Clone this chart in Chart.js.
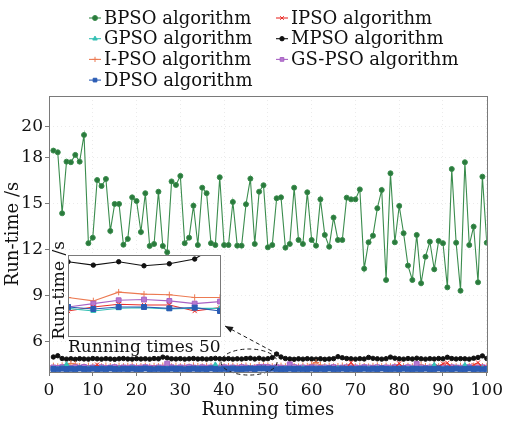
<!DOCTYPE html>
<html>
<head>
<meta charset="utf-8">
<script src="https://cdn.jsdelivr.net/npm/chart.js@4.4.1/dist/chart.umd.min.js"></script>
<style>
  html, body { margin: 0; padding: 0; background: #fff; }
  #wrap { position: relative; width: 507px; height: 423px; }
  #main { position: absolute; left: 0; top: 0; }
  #inset { position: absolute; left: 48px; top: 236px; }
</style>
</head>
<body>
<div id="wrap">
  <canvas id="main" width="507" height="423"></canvas>
  <canvas id="inset" width="180" height="124"></canvas>
</div>
<script>
// ---- data: run-time (s) of each algorithm over 100 runs ----
const runs = Array.from({ length: 100 }, (_, i) => i + 1);
const xTicks = [0, 10, 20, 30, 40, 50, 60, 70, 80, 90, 100];
const yTicks = [6, 9, 12, 15, 18, 20];

const bpso = [
  18.44, 18.33, 14.35, 17.72, 17.68, 18.16, 17.72, 19.46, 12.40, 12.76,
  16.52, 16.13, 16.59, 13.20, 14.96, 14.96, 12.30, 12.68, 15.39, 15.15,
  13.13, 15.66, 12.22, 12.35, 15.76, 12.22, 11.81, 16.43, 16.20, 16.79,
  12.40, 12.76, 14.85, 12.28, 16.02, 15.66, 12.40, 12.28, 16.70, 12.28,
  12.28, 15.09, 12.24, 12.24, 14.94, 16.61, 12.35, 15.76, 16.18, 12.13,
  12.28, 15.33, 15.39, 12.11, 12.35, 16.02, 12.61, 12.35, 15.72, 12.61,
  12.24, 15.26, 12.94, 12.17, 14.07, 12.61, 12.61, 15.37, 15.26, 15.26,
  15.91, 10.74, 12.46, 12.89, 14.68, 15.87, 10.00, 16.96, 12.46, 14.83,
  13.05, 10.94, 10.00, 12.94, 9.79, 11.52, 12.50, 10.70, 12.55, 12.40,
  9.52, 17.24, 12.43, 9.30, 17.68, 12.28, 13.48, 9.85, 16.74, 12.43
];
const mpso = [
  4.98, 5.06, 4.88, 4.84, 4.86, 4.83, 4.87, 4.85, 4.84, 4.88,
  4.86, 4.84, 4.87, 4.85, 4.83, 4.86, 4.88, 4.85, 4.84, 4.87,
  4.85, 4.86, 4.84, 4.88, 4.86, 4.97, 4.92, 4.86, 4.85, 4.87,
  4.84, 4.86, 4.88, 4.85, 4.86, 4.84, 4.87, 4.89, 4.86, 4.85,
  4.87, 4.84, 4.86, 4.85, 4.88, 4.90, 4.85, 4.90, 4.84, 4.87,
  4.94, 5.17, 4.98, 4.88, 4.85, 4.83, 4.86, 4.84, 4.87, 4.85,
  4.84, 4.86, 4.83, 4.85, 4.87, 5.00, 4.93, 4.88, 4.86, 4.84,
  4.87, 4.85, 4.95, 4.89, 4.86, 4.84, 4.87, 4.97, 4.90, 4.86,
  4.84, 4.88, 4.85, 4.90, 4.86, 4.84, 4.87, 4.85, 4.88, 4.86,
  4.96, 4.88, 4.85, 4.87, 4.86, 4.84, 4.90, 4.95, 5.05, 4.88
];
const ipsoDash = [
  4.40, 4.36, 4.42, 4.48, 4.56, 4.52, 4.38, 4.35, 4.40, 4.37,
  4.39, 4.36, 4.41, 4.38, 4.35, 4.40, 4.37, 4.39, 4.42, 4.36,
  4.38, 4.40, 4.35, 4.39, 4.37, 4.41, 4.38, 4.36, 4.40, 4.37,
  4.39, 4.35, 4.42, 4.38, 4.36, 4.40, 4.39, 4.37, 4.41, 4.36,
  4.38, 4.40, 4.36, 4.39, 4.41, 4.37, 4.32, 4.45, 4.42, 4.41,
  4.37, 4.37, 4.40, 4.36, 4.39, 4.38, 4.35, 4.41, 4.39, 4.50,
  4.62, 4.45, 4.37, 4.40, 4.36, 4.38, 4.41, 4.37, 4.39, 4.36,
  4.40, 4.38, 4.35, 4.39, 4.42, 4.37, 4.40, 4.36, 4.38, 4.41,
  4.37, 4.39, 4.36, 4.40, 4.46, 4.38, 4.35, 4.41, 4.37, 4.39,
  4.42, 4.38, 4.36, 4.40, 4.37, 4.39, 4.41, 4.36, 4.38, 4.40
];
const gspso = [
  4.30, 4.27, 4.32, 4.29, 4.26, 4.31, 4.28, 4.33, 4.27, 4.30,
  4.28, 4.31, 4.26, 4.29, 4.32, 4.27, 4.30, 4.28, 4.31, 4.27,
  4.29, 4.32, 4.28, 4.26, 4.30, 4.29, 4.55, 4.31, 4.27, 4.30,
  4.28, 4.32, 4.29, 4.27, 4.31, 4.28, 4.30, 4.26, 4.29, 4.31,
  4.28, 4.30, 4.27, 4.32, 4.29, 4.23, 4.28, 4.33, 4.34, 4.32,
  4.28, 4.31, 4.29, 4.27, 4.50, 4.32, 4.28, 4.30, 4.27, 4.31,
  4.29, 4.26, 4.30, 4.28, 4.32, 4.27, 4.29, 4.31, 4.28, 4.30,
  4.27, 4.32, 4.29, 4.28, 4.31, 4.27, 4.30, 4.28, 4.32, 4.29,
  4.27, 4.31, 4.28, 4.52, 4.30, 4.27, 4.29, 4.32, 4.28, 4.30,
  4.27, 4.31, 4.29, 4.28, 4.30, 4.32, 4.27, 4.29, 4.31, 4.28
];
const ipso = [
  4.24, 4.20, 4.26, 4.22, 4.19, 4.25, 4.21, 4.23, 4.20, 4.27,
  4.48, 4.22, 4.19, 4.24, 4.21, 4.26, 4.20, 4.23, 4.25, 4.19,
  4.22, 4.24, 4.20, 4.26, 4.21, 4.23, 4.19, 4.25, 4.22, 4.20,
  4.24, 4.21, 4.26, 4.19, 4.23, 4.22, 4.25, 4.20, 4.24, 4.21,
  4.23, 4.19, 4.26, 4.22, 4.20, 4.17, 4.23, 4.27, 4.26, 4.26,
  4.17, 4.22, 4.24, 4.20, 4.23, 4.26, 4.21, 4.19, 4.24, 4.22,
  4.25, 4.20, 4.23, 4.21, 4.26, 4.19, 4.24, 4.30, 4.62, 4.25,
  4.21, 4.23, 4.20, 4.25, 4.22, 4.19, 4.24, 4.21, 4.30, 4.56,
  4.24, 4.20, 4.23, 4.26, 4.21, 4.24, 4.19, 4.22, 4.35, 4.55,
  4.60, 4.28, 4.22, 4.25, 4.20, 4.23, 4.45, 4.62, 4.30, 4.22
];
const gpso = [
  4.22, 4.19, 4.24, 4.50, 4.21, 4.18, 4.23, 4.20, 4.22, 4.19,
  4.21, 4.24, 4.18, 4.22, 4.20, 4.23, 4.19, 4.21, 4.24, 4.20,
  4.18, 4.22, 4.21, 4.19, 4.23, 4.20, 4.22, 4.18, 4.24, 4.21,
  4.19, 4.22, 4.20, 4.23, 4.18, 4.21, 4.24, 4.48, 4.22, 4.19,
  4.21, 4.23, 4.18, 4.22, 4.20, 4.21, 4.17, 4.21, 4.22, 4.20,
  4.21, 4.21, 4.19, 4.23, 4.20, 4.22, 4.18, 4.24, 4.21, 4.19,
  4.22, 4.20, 4.23, 4.18, 4.21, 4.24, 4.20, 4.22, 4.19, 4.21,
  4.23, 4.18, 4.22, 4.20, 4.24, 4.21, 4.19, 4.22, 4.20, 4.23,
  4.18, 4.21, 4.24, 4.20, 4.22, 4.19, 4.23, 4.46, 4.21, 4.20,
  4.22, 4.18, 4.23, 4.21, 4.45, 4.20, 4.22, 4.19, 4.24, 4.21
];
const dpso = [
  4.20, 4.17, 4.22, 4.19, 4.21, 4.18, 4.23, 4.20, 4.17, 4.22,
  4.19, 4.21, 4.18, 4.23, 4.20, 4.17, 4.21, 4.19, 4.22, 4.18,
  4.20, 4.23, 4.19, 4.17, 4.21, 4.20, 4.18, 4.22, 4.19, 4.21,
  4.17, 4.20, 4.22, 4.18, 4.21, 4.19, 4.23, 4.20, 4.17, 4.21,
  4.19, 4.22, 4.18, 4.20, 4.21, 4.23, 4.20, 4.23, 4.23, 4.21,
  4.22, 4.17, 4.20, 4.18, 4.22, 4.19, 4.21, 4.17, 4.20, 4.22,
  4.18, 4.21, 4.19, 4.23, 4.20, 4.17, 4.22, 4.19, 4.21, 4.18,
  4.20, 4.22, 4.17, 4.21, 4.19, 4.23, 4.20, 4.18, 4.21, 4.19,
  4.22, 4.17, 4.20, 4.21, 4.18, 4.22, 4.19, 4.20, 4.23, 4.17,
  4.21, 4.19, 4.22, 4.18, 4.20, 4.23, 4.19, 4.21, 4.17, 4.20
];

// zoomed window shown in the inset, and the dashed marker around it
const insetRange = { xMin: 46, xMax: 52, yMin: 3.8, yMax: 5.0 };
const zoomEllipse = { cx: 45.7, cy: 4.65, rx: 6.4, ry: 0.85 };
const zoomArrow = { from: [52.3, 5.15], to: [40.2, 7.0] };

// ---- series styling (legend order: left column then right column) ----
const series = [
  { label: 'BPSO algorithm',   data: bpso,     color: '#3a8c4d', fill: '#2a7a3c', style: 'circle',   r: 2.5, order: 6 },
  { label: 'GPSO algorithm',   data: gpso,     color: '#34c0b4', fill: '#34c0b4', style: 'triangle', r: 2.8, order: 1 },
  { label: 'I-PSO algorithm',  data: ipsoDash, color: '#ec7a52', fill: '#ec7a52', style: 'cross',    r: 3.2, order: 4 },
  { label: 'DPSO algorithm',   data: dpso,     color: '#2b5cb4', fill: '#2b5cb4', style: 'rect',     r: 3.5, order: 0 },
  { label: 'IPSO algorithm',   data: ipso,     color: '#ea2f2a', fill: '#ea2f2a', style: 'crossRot', r: 3.0, order: 2 },
  { label: 'MPSO algorithm',   data: mpso,     color: '#111111', fill: '#111111', style: 'circle',   r: 2.2, order: 5 },
  { label: 'GS-PSO algorithm', data: gspso,    color: '#a862c4', fill: '#b77ad0', style: 'rect',     r: 3.4, order: 3 }
];

const FONT = "'DejaVu Serif', serif";
Chart.defaults.font.family = FONT;
Chart.defaults.color = '#111';

function makeSets() {
  return series.map(s => ({
    label: s.label,
    data: s.data.map((v, i) => ({ x: runs[i], y: v })),
    borderColor: s.color,
    backgroundColor: s.fill,
    pointBackgroundColor: s.fill,
    pointBorderColor: s.color,
    pointStyle: s.style,
    pointRadius: s.r,
    pointBorderWidth: 1,
    borderWidth: 1.1,
    tension: 0,
    order: s.order
  }));
}

// frame around the plotting area
const framePlugin = {
  id: 'frame',
  afterDraw(chart) {
    const { ctx, chartArea: a } = chart;
    ctx.save();
    ctx.strokeStyle = '#7a7a7a';
    ctx.lineWidth = 1;
    ctx.strokeRect(Math.round(a.left) + 0.5, Math.round(a.top) + 0.5,
                   Math.round(a.right - a.left), Math.round(a.bottom - a.top));
    ctx.restore();
  }
};

// dashed ellipse around the zoomed runs and the arrow pointing to the inset
const zoomMarkPlugin = {
  id: 'zoomMark',
  afterDatasetsDraw(chart) {
    const { ctx, scales: { x, y } } = chart;
    const cx = x.getPixelForValue(zoomEllipse.cx);
    const cy = y.getPixelForValue(zoomEllipse.cy);
    const rx = Math.abs(x.getPixelForValue(zoomEllipse.cx + zoomEllipse.rx) - cx);
    const ry = Math.abs(y.getPixelForValue(zoomEllipse.cy + zoomEllipse.ry) - cy);
    const fx = x.getPixelForValue(zoomArrow.from[0]), fy = y.getPixelForValue(zoomArrow.from[1]);
    const tx = x.getPixelForValue(zoomArrow.to[0]),   ty = y.getPixelForValue(zoomArrow.to[1]);
    ctx.save();
    ctx.strokeStyle = '#1a1a1a';
    ctx.lineWidth = 1;
    ctx.setLineDash([4, 3]);
    ctx.beginPath();
    ctx.ellipse(cx, cy, rx, ry, 0, 0, Math.PI * 2);
    ctx.stroke();
    ctx.beginPath();
    ctx.moveTo(fx, fy);
    ctx.lineTo(tx, ty);
    ctx.stroke();
    ctx.setLineDash([]);
    const ang = Math.atan2(ty - fy, tx - fx);
    const L = 8, W = 3.2;
    ctx.fillStyle = '#1a1a1a';
    ctx.beginPath();
    ctx.moveTo(tx, ty);
    ctx.lineTo(tx - L * Math.cos(ang) + W * Math.sin(ang), ty - L * Math.sin(ang) - W * Math.cos(ang));
    ctx.lineTo(tx - L * Math.cos(ang) - W * Math.sin(ang), ty - L * Math.sin(ang) + W * Math.cos(ang));
    ctx.closePath();
    ctx.fill();
    ctx.restore();
  }
};

// two-column legend at the top
const legendGridPlugin = {
  id: 'legendGrid',
  afterDraw(chart) {
    const { ctx } = chart;
    const colX = [95, 282];
    const rowY = [18, 38.7, 59.4, 80.1];
    ctx.save();
    ctx.font = '18px ' + FONT;
    ctx.textBaseline = 'middle';
    ctx.textAlign = 'left';
    chart.data.datasets.forEach((ds, i) => {
      const col = i < 4 ? 0 : 1;
      const row = i < 4 ? i : i - 4;
      const px = colX[col], py = rowY[row];
      ctx.strokeStyle = ds.borderColor;
      ctx.lineWidth = 1.1;
      ctx.beginPath();
      ctx.moveTo(px - 6, py);
      ctx.lineTo(px + 6, py);
      ctx.stroke();
      ctx.fillStyle = ds.pointBackgroundColor;
      ctx.strokeStyle = ds.pointBorderColor;
      ctx.lineWidth = 1;
      Chart.helpers.drawPoint(ctx, { pointStyle: ds.pointStyle, radius: Math.min(ds.pointRadius, 2.6), borderWidth: 1, rotation: 0 }, px, py);
      ctx.fillStyle = '#111';
      ctx.fillText(ds.label, px + 9, py + 1);
    });
    ctx.restore();
  }
};

new Chart(document.getElementById('main'), {
  type: 'line',
  data: { datasets: makeSets() },
  options: {
    responsive: false,
    animation: false,
    layout: { padding: { top: 96, right: 17, left: 0, bottom: 0 } },
    plugins: { legend: { display: false }, tooltip: { enabled: false } },
    scales: {
      x: {
        type: 'linear', min: 0, max: 100,
        afterBuildTicks: s => { s.ticks = xTicks.map(v => ({ value: v })); },
        afterFit: s => { s.height = 51; },
        ticks: { font: { size: 17 }, padding: 4, maxRotation: 0, color: '#111' },
        grid: { color: '#ebebeb', tickLength: 4, tickColor: '#7a7a7a' },
        border: { display: false, dash: [1, 3] },
        title: { display: true, text: 'Running times', font: { size: 18 }, padding: { top: 0, bottom: 2 }, color: '#111' }
      },
      y: {
        min: 4, max: 22,
        afterBuildTicks: s => { s.ticks = yTicks.map(v => ({ value: v })); },
        afterFit: s => { s.width = 49; },
        ticks: { font: { size: 17 }, padding: 2, color: '#111' },
        grid: { color: '#ebebeb', tickLength: 4, tickColor: '#7a7a7a' },
        border: { display: false, dash: [1, 3] },
        title: { display: true, text: 'Run-time /s', font: { size: 18 }, padding: { top: 3, bottom: 0 }, color: '#111' }
      }
    }
  },
  plugins: [framePlugin, zoomMarkPlugin, legendGridPlugin]
});

// inset: white plotting box plus its own axis captions
const insetTitles = { x: 'Running times 50', y: 'Run-time /s' };
const insetBgPlugin = {
  id: 'insetBg',
  beforeDatasetsDraw(chart) {
    const { ctx, chartArea: a } = chart;
    ctx.save();
    ctx.fillStyle = '#fff';
    ctx.fillRect(a.left, a.top, a.right - a.left, a.bottom - a.top);
    ctx.restore();
  },
  afterDraw(chart) {
    const { ctx, chartArea: a } = chart;
    ctx.save();
    ctx.fillStyle = '#111';
    ctx.font = '17px ' + FONT;
    ctx.textBaseline = 'middle';
    ctx.textAlign = 'left';
    ctx.fillText(insetTitles.x, a.left, a.bottom + 12);
    ctx.translate(a.left - 8, (a.top + a.bottom) / 2 - 5);
    ctx.rotate(-Math.PI / 2);
    ctx.textAlign = 'center';
    ctx.fillText(insetTitles.y, 0, 0);
    ctx.restore();
  }
};

new Chart(document.getElementById('inset'), {
  type: 'line',
  data: { datasets: makeSets() },
  options: {
    responsive: false,
    animation: false,
    layout: { padding: { left: 20, top: 19, right: 8, bottom: 24 } },
    plugins: { legend: { display: false }, tooltip: { enabled: false } },
    scales: {
      x: { type: 'linear', display: false, min: insetRange.xMin, max: insetRange.xMax },
      y: { display: false, min: insetRange.yMin, max: insetRange.yMax }
    }
  },
  plugins: [insetBgPlugin, framePlugin]
});
</script>
</body>
</html>
